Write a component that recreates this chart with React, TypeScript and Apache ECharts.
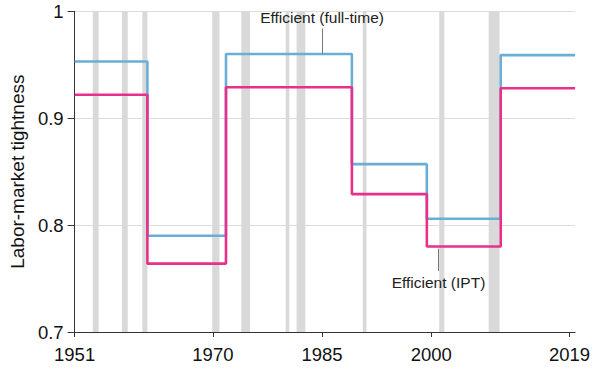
import React, { useEffect, useRef } from "react";
import * as echarts from "echarts";

// Tick labels
const xTickYears = [1951, 1970, 1985, 2000, 2019];
const yTickValues = [0.7, 0.8, 0.9, 1];

// Step segments: each value holds from its start year to the next start
const stepStarts = [1951, 1961.0, 1971.8, 1989.1, 1999.4, 2009.55];
const seriesEnd = 2019.77;
const fullTimeValues = [0.953, 0.79, 0.96, 0.857, 0.806, 0.959];
const iptValues = [0.922, 0.764, 0.929, 0.829, 0.78, 0.928];

// Recession periods (shaded)
const recessionStarts = [1953.5, 1957.5, 1960.3, 1969.9, 1973.9, 1980.0, 1981.5, 1990.6, 2001.1, 2007.9];
const recessionEnds = [1954.3, 1958.3, 1961.0, 1970.9, 1975.1, 1980.5, 1982.7, 1991.1, 2001.8, 2009.4];

// Annotations
const fullTimeLabel = "Efficient (full-time)";
const fullTimeLeader = { x: 1985.0, from: 0.9605, to: 0.984 };
const iptLabel = "Efficient (IPT)";
const iptLeader = { x: 2001.0, from: 0.778, to: 0.757 };

const FONT = "Liberation Sans, Arial, Helvetica, sans-serif";

export default function App() {
  const ref = useRef<HTMLDivElement>(null);
  useEffect(() => {
    if (!ref.current) return;
    document.body.style.margin = "0";
    const chart = echarts.init(ref.current, undefined, { renderer: "svg" });
    const buildStep = (vals: number[]) => {
      const d = stepStarts.map((x, i) => [x, vals[i]]);
      d.push([seriesEnd, vals[vals.length - 1]]);
      return d;
    };
    const bands = recessionStarts.map((s, i) => [s, recessionEnds[i]]);
    chart.setOption({
      animation: false,
      grid: { left: 69.5, right: 17, top: 11.3, bottom: 39, containLabel: false },
      xAxis: {
        type: "value",
        min: 1951,
        max: seriesEnd,
        splitLine: { show: false },
        axisLine: { show: true, lineStyle: { color: "#333", width: 1 } },
        axisTick: { show: true, length: 5, customValues: xTickYears, lineStyle: { color: "#333" } },
        axisLabel: {
          customValues: xTickYears,
          fontSize: 18.5,
          color: "#111",
          fontFamily: FONT,
          margin: 13,
          formatter: (v: number) => String(Math.round(v)),
        },
      },
      yAxis: {
        type: "value",
        min: 0.7,
        max: 1,
        interval: 0.1,
        name: "Labor-market tightness",
        nameLocation: "middle",
        nameGap: 42,
        nameTextStyle: { fontSize: 19, color: "#111", fontFamily: FONT },
        axisLine: { show: true, lineStyle: { color: "#333", width: 1 } },
        axisTick: { show: true, length: 7, lineStyle: { color: "#333" } },
        axisLabel: {
          fontSize: 18.5,
          color: "#111",
          fontFamily: FONT,
          margin: 11,
          formatter: (v: number) => {
            const r = Math.round(v * 10) / 10;
            return yTickValues.includes(r) ? (r === 1 ? "1" : r.toFixed(1)) : "";
          },
        },
        splitLine: { show: true, lineStyle: { color: "#dcdcdc", width: 1 } },
      },
      series: [
        {
          type: "custom",
          name: "recessions",
          z: 1,
          silent: true,
          encode: { x: [0, 1] },
          data: bands,
          renderItem: (params: any, api: any) => {
            const p0 = api.coord([api.value(0), 1]);
            const p1 = api.coord([api.value(1), 0.7]);
            return {
              type: "rect",
              shape: { x: p0[0], y: p0[1], width: p1[0] - p0[0], height: p1[1] - p0[1] },
              style: { fill: "#d9d9d9" },
            };
          },
        },
        {
          type: "line",
          name: "Efficient (full-time)",
          step: "end",
          z: 3,
          symbol: "none",
          data: buildStep(fullTimeValues),
          lineStyle: { color: "#6aaed6", width: 2.6 },
          markLine: {
            silent: true,
            symbol: "none",
            lineStyle: { color: "#777", width: 1, type: "solid" },
            label: {
              show: true,
              position: "end",
              formatter: fullTimeLabel,
              fontSize: 15.5,
              color: "#222",
              fontFamily: FONT,
              distance: 3,
            },
            data: [[{ coord: [fullTimeLeader.x, fullTimeLeader.from] }, { coord: [fullTimeLeader.x, fullTimeLeader.to] }]],
          },
        },
        {
          type: "line",
          name: "Efficient (IPT)",
          step: "end",
          z: 4,
          symbol: "none",
          data: buildStep(iptValues),
          lineStyle: { color: "#e8308a", width: 2.6 },
          markLine: {
            silent: true,
            symbol: "none",
            lineStyle: { color: "#777", width: 1, type: "solid" },
            label: {
              show: true,
              position: "end",
              formatter: iptLabel,
              fontSize: 15.5,
              color: "#222",
              fontFamily: FONT,
              distance: 3,
            },
            data: [[{ coord: [iptLeader.x, iptLeader.from] }, { coord: [iptLeader.x, iptLeader.to] }]],
          },
        },
      ],
    });
    return () => chart.dispose();
  }, []);
  return <div ref={ref} style={{ width: 593, height: 371 }} />;
}
